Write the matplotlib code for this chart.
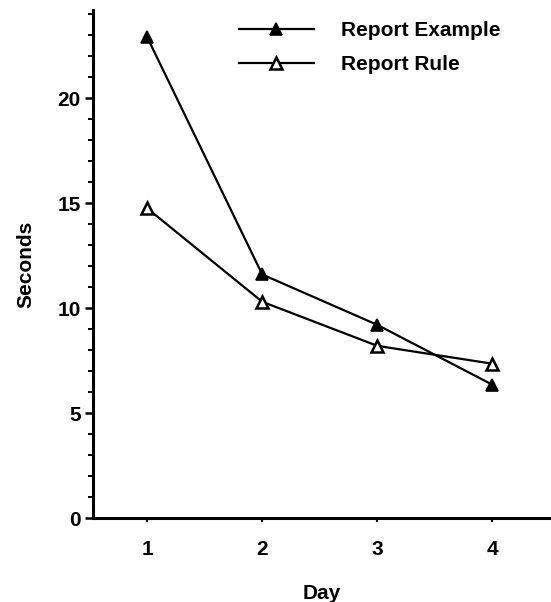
import matplotlib
matplotlib.use('Agg')
import matplotlib.pyplot as plt
from matplotlib.ticker import MultipleLocator

days = [1, 2, 3, 4]
report_example = [22.9, 11.6, 9.2, 6.35]
report_rule = [14.75, 10.3, 8.2, 7.35]
series_labels = ['Report Example', 'Report Rule']

plt.rcParams['font.family'] = ['Liberation Sans', 'DejaVu Sans']
plt.rcParams['font.weight'] = 'bold'

fig = plt.figure(figsize=(5.51, 6.02), dpi=100)
ax = fig.add_axes([0.169, 0.1395, 0.831, 0.844])

ax.plot(days, report_example, '-^', color='black', lw=1.6, ms=8.5,
        mfc='black', mec='black', mew=1.2, label=series_labels[0])
ax.plot(days, report_rule, '-^', color='black', lw=1.6, ms=8,
        mfc='white', mec='black', mew=1.8, label=series_labels[1])

ax.set_xlim(0.53, 4.51)
ax.set_ylim(0, 24.2)

for side in ['top', 'right']:
    ax.spines[side].set_visible(False)
for side in ['left', 'bottom']:
    ax.spines[side].set_linewidth(2.2)

ax.set_xticks(days)
ax.yaxis.set_major_locator(MultipleLocator(5))
ax.yaxis.set_minor_locator(MultipleLocator(1))
ax.tick_params(axis='y', which='major', length=6, width=1.8, labelsize=15, pad=3)
ax.tick_params(axis='y', which='minor', length=3.5, width=1.4)
ax.tick_params(axis='x', which='major', length=3, width=1.5, labelsize=15, pad=13)

ax.set_ylabel('Seconds', fontsize=15, fontweight='bold', labelpad=16)
ax.set_xlabel('Day', fontsize=15, fontweight='bold', labelpad=18)

ax.legend(loc='upper left', bbox_to_anchor=(0.3, 0.995), frameon=False,
          fontsize=15, handlelength=3.6, handletextpad=1.3, labelspacing=0.75,
          borderaxespad=0.0)

fig.savefig('out.png', dpi=100)
